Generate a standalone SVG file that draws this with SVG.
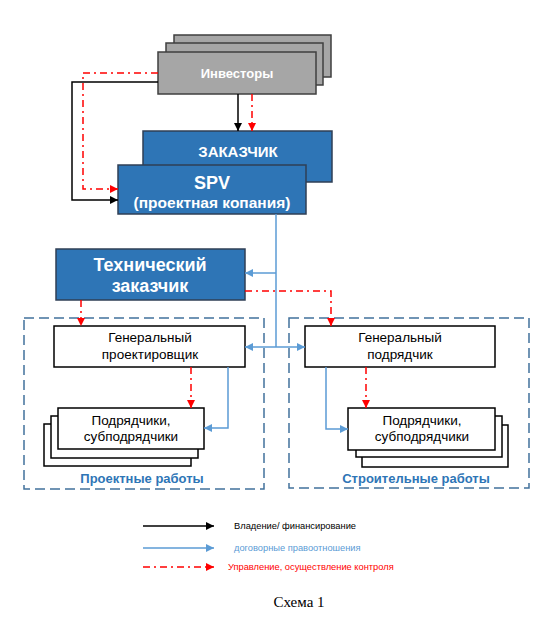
<svg xmlns="http://www.w3.org/2000/svg" width="540" height="617" viewBox="0 0 540 617">
<style>
.inv{fill:#a6a6a6;stroke:#3f3f3f;stroke-width:1.5}
.blue{fill:#2e75b6;stroke:#2f3f55;stroke-width:1.5}
.wb{fill:#fff;stroke:#000;stroke-width:1.5}
.zone{fill:none;stroke:#41719c;stroke-width:1.5;stroke-dasharray:10 5}
.tw{fill:#fff;font-family:"Liberation Sans",Arial,sans-serif;font-weight:bold;text-anchor:middle}
.tb{fill:#000;font-family:"Liberation Sans",Arial,sans-serif;font-size:13.5px;text-anchor:middle}
.zl{fill:#2e75b6;font-family:"Liberation Sans",Arial,sans-serif;font-size:13px;font-weight:bold;text-anchor:middle}
.k{fill:none;stroke:#000;stroke-width:1.5}
.b{fill:none;stroke:#5b9bd5;stroke-width:1.5}
.r{fill:none;stroke:#ff0000;stroke-width:1.5;stroke-dasharray:7 4 2 4}
.lg{font-family:"Liberation Sans",Arial,sans-serif;font-size:9.3px}
</style>
<defs>
<marker id="ak" markerWidth="8" markerHeight="8" refX="8" refY="4" orient="auto" markerUnits="userSpaceOnUse"><path d="M0,0 L8,4 L0,8 Z" fill="#000"/></marker>
<marker id="ab" markerWidth="8" markerHeight="8" refX="8" refY="4" orient="auto" markerUnits="userSpaceOnUse"><path d="M0,0 L8,4 L0,8 Z" fill="#5b9bd5"/></marker>
<marker id="abs" markerWidth="8" markerHeight="8" refX="0" refY="4" orient="auto" markerUnits="userSpaceOnUse"><path d="M8,0 L0,4 L8,8 Z" fill="#5b9bd5"/></marker>
<marker id="ar" markerWidth="8" markerHeight="8" refX="8" refY="4" orient="auto" markerUnits="userSpaceOnUse"><path d="M0,0 L8,4 L0,8 Z" fill="#ff0000"/></marker>
</defs>

<g id="zone-design"><rect class="zone" x="24" y="318" width="240" height="171"/><text class="zl" x="142" y="483">Проектные работы</text></g>
<g id="zone-construction"><rect class="zone" x="289" y="318" width="240" height="170"/><text class="zl" x="416" y="483">Строительные работы</text></g>

<g id="investors">
<rect class="inv" x="174" y="35" width="157" height="42"/>
<rect class="inv" x="166" y="43" width="157" height="42"/>
<rect class="inv" x="158" y="52" width="158" height="42"/>
<text class="tw" x="237" y="78" font-size="13">Инвесторы</text>
</g>

<g id="zakazchik">
<rect class="blue" x="143" y="131" width="189" height="51"/>
<text class="tw" x="238" y="157" font-size="15">ЗАКАЗЧИК</text>
</g>

<g id="spv">
<rect class="blue" x="118" y="165" width="188" height="49"/>
<text class="tw" x="212" y="189" font-size="18">SPV</text>
<text class="tw" x="212" y="208" font-size="15.5">(проектная копания)</text>
</g>

<g id="tech-zakazchik">
<rect class="blue" x="56" y="249" width="189" height="51"/>
<text class="tw" x="150" y="271" font-size="18">Технический</text>
<text class="tw" x="150" y="292" font-size="18">заказчик</text>
</g>

<g id="gen-designer">
<rect class="wb" x="54" y="326" width="191" height="41"/>
<text class="tb" x="150" y="342">Генеральный</text>
<text class="tb" x="150" y="359">проектировщик</text>
</g>

<g id="gen-contractor">
<rect class="wb" x="305" y="326" width="190" height="41"/>
<text class="tb" x="400" y="342">Генеральный</text>
<text class="tb" x="400" y="359">подрядчик</text>
</g>

<g id="subs-design">
<rect class="wb" x="44" y="424" width="147" height="42"/>
<rect class="wb" x="51" y="416" width="147" height="42"/>
<rect class="wb" x="58" y="408" width="146" height="41"/>
<text class="tb" x="131" y="425">Подрядчики,</text>
<text class="tb" x="131" y="441">субподрядчики</text>
</g>

<g id="subs-construction">
<rect class="wb" x="362" y="425" width="146" height="42"/>
<rect class="wb" x="356" y="416" width="146" height="41"/>
<rect class="wb" x="348" y="408" width="147" height="42"/>
<text class="tb" x="422" y="425">Подрядчики,</text>
<text class="tb" x="422" y="441">субподрядчики</text>
</g>

<g id="connectors">
<path class="k" d="M238,94 V131" marker-end="url(#ak)"/>
<path class="r" d="M252,94 V131" marker-end="url(#ar)"/>
<path class="k" d="M158,82 H72 V200 H118" marker-end="url(#ak)"/>
<path class="r" d="M158,73 H83 V189 H118" marker-end="url(#ar)"/>
<path class="b" d="M276,214 V347"/>
<path class="b" d="M276,273 H245" marker-end="url(#ab)"/>
<path class="b" d="M245,347 H305" marker-start="url(#abs)" marker-end="url(#ab)"/>
<path class="r" d="M81,300 V326" marker-end="url(#ar)"/>
<path class="r" d="M245,291 H331 V326" marker-end="url(#ar)"/>
<path class="r" d="M191,367 V408" marker-end="url(#ar)"/>
<path class="b" d="M228,367 V428 H204" marker-end="url(#ab)"/>
<path class="r" d="M366,367 V408" marker-end="url(#ar)"/>
<path class="b" d="M326,367 V429 H348" marker-end="url(#ab)"/>
</g>

<g id="legend">
<path class="k" d="M143,526 H214" marker-end="url(#ak)"/>
<text class="lg" x="234" y="529" fill="#000">Владение/ финансирование</text>
<path class="b" d="M143,548 H214" marker-end="url(#ab)"/>
<text class="lg" x="234" y="551" fill="#5b9bd5">договорные правоотношения</text>
<path class="r" d="M143,567 H214" marker-end="url(#ar)"/>
<text class="lg" x="228" y="570" fill="#ff0000">Управление, осуществление контроля</text>
<text x="299" y="607" font-family="'Liberation Serif','Times New Roman',serif" font-size="15" text-anchor="middle" fill="#000">Схема 1</text>
</g>
</svg>
